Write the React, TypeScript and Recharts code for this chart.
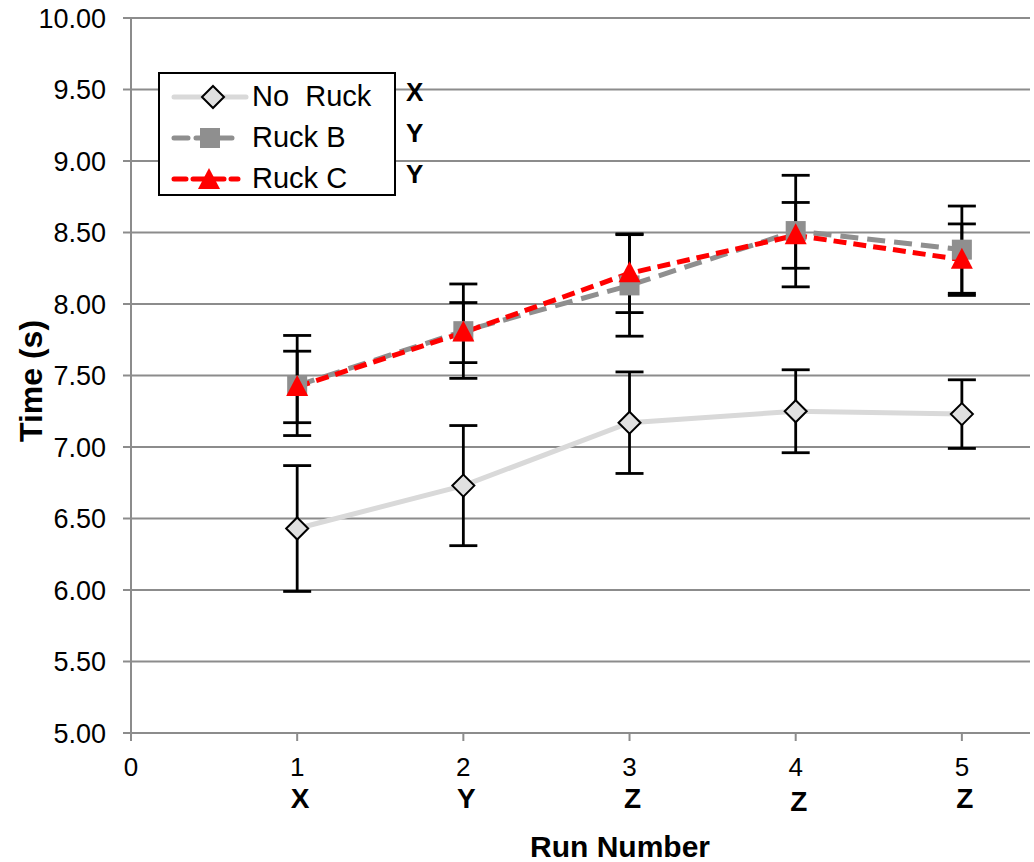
import React from 'react';
import {
  LineChart,
  Line,
  XAxis,
  YAxis,
  CartesianGrid,
  ErrorBar,
} from 'recharts';

const runs = [1, 2, 3, 4, 5];
const runLetters = ['', 'X', 'Y', 'Z', 'Z', 'Z'];
const noRuck = [6.43, 6.73, 7.17, 7.25, 7.23];
const noRuckErr = [0.44, 0.42, 0.355, 0.29, 0.24];
const ruckB = [7.43, 7.81, 8.13, 8.51, 8.38];
const ruckBErr = [0.35, 0.33, 0.355, 0.39, 0.305];
const ruckC = [7.42, 7.8, 8.215, 8.48, 8.31];
const ruckCErr = [0.25, 0.21, 0.275, 0.23, 0.25];
const yTicks = [5, 5.5, 6, 6.5, 7, 7.5, 8, 8.5, 9, 9.5, 10];
const xTicks = [0, 1, 2, 3, 4, 5];
const legendLetters = ['X', 'Y', 'Y'];

const data = runs.map((r, i) => ({
  run: r,
  noRuck: noRuck[i],
  noRuckErr: noRuckErr[i],
  ruckB: ruckB[i],
  ruckBErr: ruckBErr[i],
  ruckC: ruckC[i],
  ruckCErr: ruckCErr[i],
}));

const FONT = '"Liberation Sans", Arial, sans-serif';

const Diamond = ({ cx, cy }: any) => {
  if (cx == null || cy == null) return null;
  const r = 11;
  return (
    <path
      d={`M${cx},${cy - r} L${cx + r},${cy} L${cx},${cy + r} L${cx - r},${cy} Z`}
      fill="#e0e0e0"
      stroke="#000"
      strokeWidth={2}
    />
  );
};

const Square = ({ cx, cy }: any) => {
  if (cx == null || cy == null) return null;
  const s = 20;
  return <rect x={cx - s / 2} y={cy - s / 2} width={s} height={s} fill="#8f8f8f" />;
};

const Triangle = ({ cx, cy }: any) => {
  if (cx == null || cy == null) return null;
  const w = 11;
  return (
    <path
      d={`M${cx},${cy - 12} L${cx + w},${cy + 9} L${cx - w},${cy + 9} Z`}
      fill="#ff0000"
    />
  );
};

const RunTick = ({ x, y, payload }: any) => {
  const v = payload.value;
  const letter = runLetters[v] || '';
  return (
    <g>
      <text x={x} y={y + 33} textAnchor="middle" fontFamily={FONT} fontSize={26} fill="#000">
        {v}
      </text>
      {letter && (
        <text
          x={x + 3}
          y={y + (v === 4 ? 68 : 65)}
          textAnchor="middle"
          fontFamily={FONT}
          fontWeight="bold"
          fontSize={28}
          fill="#000"
        >
          {letter}
        </text>
      )}
    </g>
  );
};

const legendRows = [
  { name: 'No  Ruck', color: '#d9d9d9', dash: undefined, marker: 'diamond' },
  { name: 'Ruck B', color: '#8f8f8f', dash: '14 8', marker: 'square' },
  { name: 'Ruck C', color: '#ff0000', dash: '12 7', marker: 'triangle' },
];

const LegendBox = () => (
  <div style={{ position: 'absolute', left: 158, top: 72, display: 'flex', alignItems: 'flex-start' }}>
    <div
      style={{
        border: '2px solid #000',
        background: '#fff',
        width: 234,
        height: 118,
        paddingTop: 2,
      }}
    >
      {legendRows.map((row) => (
        <div key={row.name} style={{ display: 'flex', alignItems: 'center', height: 41 }}>
          <svg width={92} height={30} style={{ flex: 'none' }}>
            <line
              x1={14}
              y1={15}
              x2={row.marker === 'diamond' ? 86 : 78}
              y2={15}
              stroke={row.color}
              strokeWidth={5}
              strokeDasharray={row.dash}
              strokeLinecap="round"
            />
            {row.marker === 'diamond' && <Diamond cx={53} cy={15} />}
            {row.marker === 'square' && <Square cx={50} cy={15} />}
            {row.marker === 'triangle' && <Triangle cx={49} cy={16} />}
          </svg>
          <span style={{ fontFamily: FONT, fontSize: 29, color: '#000', whiteSpace: 'pre', lineHeight: '41px' }}>
            {row.name}
          </span>
        </div>
      ))}
    </div>
    <div style={{ marginLeft: 10, paddingTop: 0 }}>
      {legendLetters.map((l, i) => (
        <div
          key={i}
          style={{
            height: 41,
            lineHeight: '41px',
            fontFamily: FONT,
            fontWeight: 'bold',
            fontSize: 26,
            color: '#000',
          }}
        >
          {l}
        </div>
      ))}
    </div>
  </div>
);

export default function App() {
  return (
    <div style={{ position: 'absolute', left: 0, top: 0, width: 1034, height: 862, background: '#fff' }}>
      <LineChart
        width={1034}
        height={862}
        data={data}
        margin={{ top: 18, right: 4, bottom: 0, left: 0 }}
      >
        <CartesianGrid vertical={false} stroke="#8c8c8c" strokeWidth={2} />
        <XAxis
          dataKey="run"
          type="number"
          domain={[0, 5.41]}
          ticks={xTicks}
          allowDataOverflow
          height={129}
          axisLine={{ stroke: '#8c8c8c', strokeWidth: 2 }}
          tickLine={{ stroke: '#8c8c8c', strokeWidth: 2 }}
          tickSize={8}
          tick={<RunTick />}
          interval={0}
          label={{
            content: () => (
              <text
                x={620}
                y={857}
                textAnchor="middle"
                fontFamily={FONT}
                fontWeight="bold"
                fontSize={30}
                fill="#000"
              >
                Run Number
              </text>
            ),
          }}
        />
        <YAxis
          type="number"
          domain={[5, 10]}
          ticks={yTicks}
          width={131}
          interval={0}
          axisLine={{ stroke: '#8c8c8c', strokeWidth: 2 }}
          tickLine={{ stroke: '#8c8c8c', strokeWidth: 2 }}
          tickSize={8}
          tickMargin={17}
          tickFormatter={(v: number) => v.toFixed(2)}
          tick={{ fontFamily: FONT, fontSize: 27, fill: '#000' }}
          label={{
            content: () => (
              <text
                x={42}
                y={381}
                transform="rotate(-90 42 381)"
                textAnchor="middle"
                fontFamily={FONT}
                fontWeight="bold"
                fontSize={32}
                fill="#000"
              >
                Time (s)
              </text>
            ),
          }}
        />
        <Line
          dataKey="noRuck"
          name="No  Ruck"
          stroke="#d9d9d9"
          strokeWidth={5}
          dot={<Diamond />}
          activeDot={false}
          isAnimationActive={false}
        >
          <ErrorBar dataKey="noRuckErr" width={14} stroke="#000" strokeWidth={2.8} direction="y" />
        </Line>
        <Line
          dataKey="ruckB"
          name="Ruck B"
          stroke="#8f8f8f"
          strokeWidth={5}
          strokeDasharray="18 9"
          dot={<Square />}
          activeDot={false}
          isAnimationActive={false}
        >
          <ErrorBar dataKey="ruckBErr" width={14} stroke="#000" strokeWidth={2.8} direction="y" />
        </Line>
        <Line
          dataKey="ruckC"
          name="Ruck C"
          stroke="#ff0000"
          strokeWidth={5}
          strokeDasharray="13 7"
          dot={<Triangle />}
          activeDot={false}
          isAnimationActive={false}
        >
          <ErrorBar dataKey="ruckCErr" width={14} stroke="#000" strokeWidth={2.8} direction="y" />
        </Line>
      </LineChart>
      <LegendBox />
    </div>
  );
}
